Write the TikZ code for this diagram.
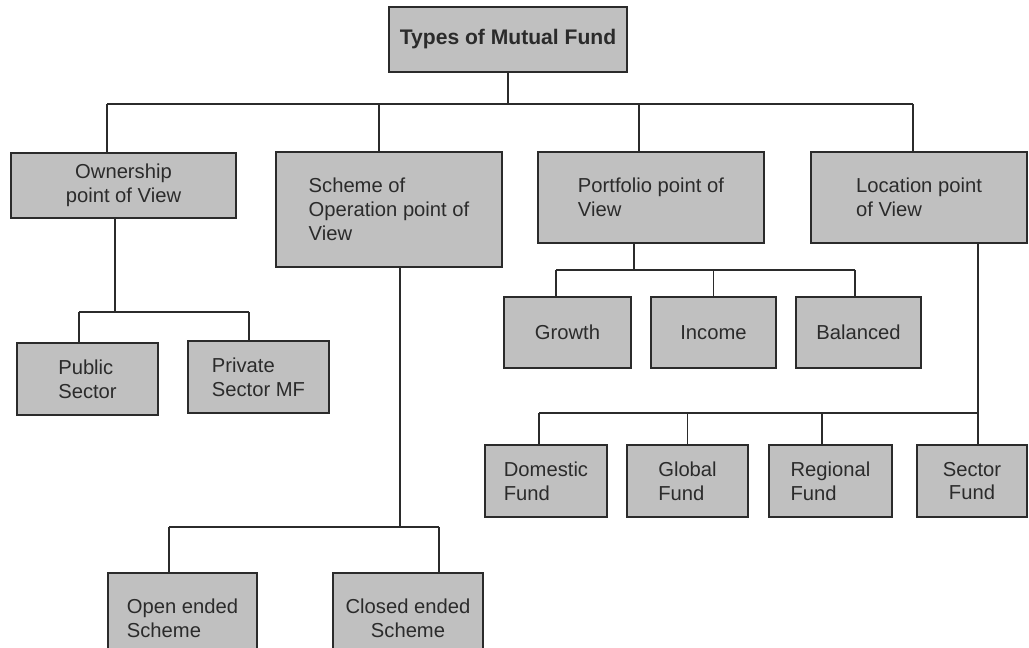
\documentclass[tikz,border=0pt]{standalone}
\usepackage{fontspec}
\setmainfont{Liberation Sans}
\usetikzlibrary{positioning,calc}
\definecolor{mfgrey}{HTML}{C0C0C0}
\definecolor{mfdark}{HTML}{2B2B2B}
\tikzset{
  mfbox/.style={draw=mfdark, fill=mfgrey, line width=0.85pt, inner sep=3pt, text=mfdark, font=\fontsize{11.5pt}{13.6pt}\selectfont},
  mfleft/.style={mfbox, align=left},
  mfcentre/.style={mfbox, align=center},
  mfline/.style={draw=mfdark, line width=1pt},
}

\begin{document}
\begin{tikzpicture}[x=0.02cm, y=-0.02cm]
  \clip (0,0) rectangle (1029,648);
  \node[mfcentre, minimum width=4.76cm, minimum height=1.3cm, font=\fontsize{12pt}{14pt}\selectfont\bfseries] (types) at (508,39.5) {Types of Mutual Fund};

  \node[mfcentre, minimum width=4.5cm, minimum height=1.3cm] (own) at (123.5,185.5) {Ownership\\point of View};
  \node[mfleft, minimum width=4.52cm, minimum height=2.3cm] (scheme) at (389,209.5) {Scheme of\\Operation point of\\View};
  \node[mfleft, minimum width=4.52cm, minimum height=1.82cm] (port) at (651,197.5) {Portfolio point of\\View};
  \node[mfleft, minimum width=4.32cm, minimum height=1.82cm] (loc) at (919,197.5) {Location point\\of View};

  \node[mfleft, minimum width=2.82cm, minimum height=1.44cm] (pub) at (87.5,379) {Public\\Sector};
  \node[mfleft, minimum width=2.82cm, minimum height=1.44cm] (priv) at (258.5,377) {Private\\Sector MF};

  \node[mfbox, minimum width=2.54cm, minimum height=1.42cm] (growth) at (567.5,332.5) {Growth};
  \node[mfbox, minimum width=2.5cm, minimum height=1.42cm] (income) at (713.5,332.5) {Income};
  \node[mfbox, minimum width=2.5cm, minimum height=1.42cm] (balanced) at (858.5,332.5) {Balanced};

  \node[mfleft, minimum width=2.44cm, minimum height=1.44cm] (domestic) at (546,481) {Domestic\\Fund};
  \node[mfleft, minimum width=2.42cm, minimum height=1.44cm] (global) at (687.5,481) {Global\\Fund};
  \node[mfleft, minimum width=2.46cm, minimum height=1.44cm] (regional) at (830.5,481) {Regional\\Fund};
  \node[mfcentre, minimum width=2.2cm, minimum height=1.44cm] (sector) at (972,481) {Sector\\Fund};

  \node[mfleft, minimum width=2.98cm, minimum height=1.8cm] (open) at (182.5,618) {Open ended\\Scheme};
  \node[mfcentre, minimum width=3cm, minimum height=1.8cm] (closed) at (408,618) {Closed ended\\Scheme};

  \coordinate (topbarL) at (107,104);
  \coordinate (topbarR) at (913,104);
  \draw[mfline] (topbarL) -- (topbarR);
  \draw[mfline] (types.south) -- (types.south |- topbarL);
  \draw[mfline] (topbarL) -- (topbarL |- own.north);
  \draw[mfline] ([xshift=-0.2cm]scheme.north) -- ([xshift=-0.2cm]scheme.north |- topbarL);
  \draw[mfline] ([xshift=-0.24cm]port.north) -- ([xshift=-0.24cm]port.north |- topbarL);
  \draw[mfline] (topbarR) -- (topbarR |- loc.north);

  \coordinate (ownbarL) at (79,312);
  \coordinate (ownbarR) at (249,312);
  \draw[mfline] ([xshift=-0.17cm]own.south) -- ([xshift=-0.17cm]own.south |- ownbarL);
  \draw[mfline] (ownbarL) -- (ownbarR);
  \draw[mfline] (ownbarL) -- (ownbarL |- pub.north);
  \draw[mfline] (ownbarR) -- (ownbarR |- priv.north);

  \coordinate (schbarL) at (169,527);
  \coordinate (schbarR) at (439,527);
  \draw[mfline] ([xshift=0.22cm]scheme.south) -- ([xshift=0.22cm]scheme.south |- schbarL);
  \draw[mfline] (schbarL) -- (schbarR);
  \draw[mfline] (schbarL) -- (schbarL |- open.north);
  \draw[mfline] (schbarR) -- (schbarR |- closed.north);

  \coordinate (portbarL) at (556,270);
  \coordinate (portbarR) at (855,270);
  \draw[mfline] ([xshift=-0.34cm]port.south) -- ([xshift=-0.34cm]port.south |- portbarL);
  \draw[mfline] (portbarL) -- (portbarR);
  \draw[mfline] (portbarL) -- (portbarL |- growth.north);
  \draw[mfline] (income.north) -- (income.north |- portbarL);
  \draw[mfline] (portbarR) -- (portbarR |- balanced.north);

  \coordinate (locbarL) at (539,413);
  \coordinate (locbarR) at (978,413);
  \draw[mfline] (locbarR |- loc.south) -- (locbarR |- sector.north);
  \draw[mfline] (locbarL) -- (locbarR);
  \draw[mfline] (locbarL) -- (locbarL |- domestic.north);
  \draw[mfline] (global.north) -- (global.north |- locbarL);
  \draw[mfline] ([xshift=-0.17cm]regional.north) -- ([xshift=-0.17cm]regional.north |- locbarL);
\end{tikzpicture}
\end{document}
